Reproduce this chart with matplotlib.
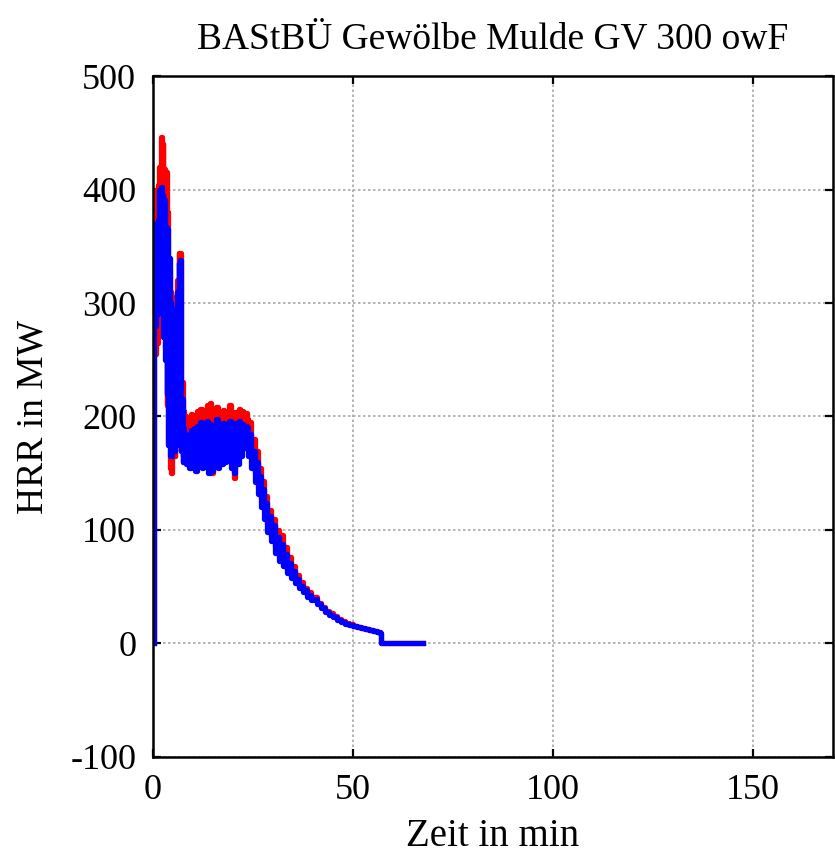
import matplotlib
matplotlib.use("Agg")
import matplotlib.pyplot as plt

# red series (time in min, HRR in MW)
t_red = [0.3, 0.35, 0.6, 0.8, 1.0, 1.2, 1.4, 1.6, 1.8, 2.0, 2.2, 2.4, 2.6, 2.8, 3.0, 3.2, 3.4,
         3.6, 3.8, 4.0, 4.2, 4.4, 4.6, 4.8, 5.0, 5.2, 5.4, 5.6, 5.8, 6.0, 6.2, 6.4, 6.6, 6.8,
         7.0, 7.2, 7.4, 7.6,
         7.8, 8.2, 8.6, 9.0, 9.4, 9.8, 10.2, 10.6, 11.0, 11.4, 11.8, 12.2, 12.6, 13.0, 13.4,
         13.8, 14.2, 14.6, 15.0, 15.4, 15.8, 16.2, 16.6, 17.0, 17.4, 17.8, 18.2, 18.6, 19.0,
         19.4, 19.8, 20.2, 20.6, 21.0, 21.4, 21.8, 22.2, 22.6, 23.0,
         23.4, 23.8, 24.2, 24.6, 25.0, 25.4, 25.8, 26.2, 26.6, 27.0, 27.4, 27.8, 28.2, 28.6,
         29.0, 29.5, 30.0, 30.5, 31.0, 31.5, 32.0, 32.5, 33.0, 33.5, 34.0, 34.5, 35.0, 35.5,
         36.0, 36.5, 37.0, 37.5, 38.0, 38.5, 39.0, 39.5, 40.0,
         41, 42, 43, 44, 45, 46, 47, 48, 49, 50, 51, 52, 53, 54, 55, 56, 56.8, 57.0,
         58, 60, 62, 64, 66, 67.5]
hrr_red = [0, 400, 255, 395, 265, 404, 300, 420, 340, 446, 310, 440, 280, 418, 260, 415, 210,
           380, 175, 330, 155, 310, 150, 290, 200, 280, 165, 305, 180, 320, 200, 344, 190, 344,
           170, 230, 165, 205,
           200, 165, 198, 160, 202, 168, 200, 158, 205, 165, 207, 160, 203, 170, 210,
           158, 212, 150, 205, 168, 208, 160, 202, 165, 206, 162, 203, 170, 210,
           160, 200, 146, 204, 165, 207, 170, 205, 180, 203,
           198, 175, 195, 165, 180, 150, 170, 140, 155, 128, 143, 118, 130, 105,
           118, 95, 110, 85, 100, 78, 96, 72, 85, 66, 76, 62, 68, 56, 60, 51, 54, 47,
           49, 43, 45, 40, 41,
           36, 32, 29, 26.5, 24, 21.8, 19.8, 18.2, 16.8, 15.6, 14.6, 13.6, 12.8, 12, 11.2, 10.4, 9.6, 0,
           0, 0, 0, 0, 0, 0]

# blue series
t_blue = t_red
hrr_blue = [0, 370, 280, 365, 290, 373, 300, 400, 320, 402, 300, 395, 270, 391, 250, 367, 220,
            365, 175, 340, 165, 300, 165, 285, 180, 270, 170, 295, 175, 310, 190, 335, 180, 338,
            170, 215, 160, 190,
            185, 158, 180, 155, 188, 160, 190, 152, 192, 160, 195, 155, 190, 158, 196,
            150, 193, 152, 190, 160, 198, 155, 192, 158, 194, 160, 190, 162, 196,
            155, 190, 150, 194, 158, 196, 165, 193, 172, 192,
            190, 165, 185, 155, 170, 142, 160, 132, 148, 120, 136, 110, 124, 98,
            112, 90, 104, 80, 94, 73, 88, 68, 79, 62, 71, 58, 64, 53, 57, 49, 51, 45,
            47, 41, 43, 38, 39,
            34.5, 31, 28, 25.5, 23, 21, 19.2, 17.6, 16.3, 15.2, 14.2, 13.3, 12.5, 11.7, 11, 10.2, 9.4, 0,
            0, 0, 0, 0, 0, 0]

plt.rcParams['font.family'] = 'Liberation Serif'
plt.rcParams['font.size'] = 26
plt.rcParams['axes.unicode_minus'] = False

fig = plt.figure(figsize=(8.35, 8.6), dpi=100)
ax = fig.add_axes([0.1832, 0.1198, 0.8144, 0.7918])

ax.plot(t_red, hrr_red, color='#ff0000', lw=3.8, drawstyle='steps-post')
ax.plot(t_blue, hrr_blue, color='#0000ff', lw=3.8, drawstyle='steps-post')

ax.set_xlim(0, 170)
ax.set_ylim(-100, 500)
ax.set_xticks([0, 50, 100, 150])
ax.set_yticks([-100, 0, 100, 200, 300, 400, 500])
ax.grid(True, color='#a8a8a8', linestyle=(0, (1.5, 1.5)), linewidth=1.2)
ax.tick_params(direction='in', top=True, right=True, length=6, width=1.6, pad=12,
               labelsize=26)
for s in ax.spines.values():
    s.set_linewidth(1.8)

ax.set_title("BAStBÜ Gewölbe Mulde GV 300 owF", fontsize=27, pad=20)
ax.set_xlabel("Zeit in min", fontsize=28, labelpad=8)
ax.set_ylabel("HRR in MW", fontsize=27, labelpad=14)

fig.savefig("out.png", dpi=100)
